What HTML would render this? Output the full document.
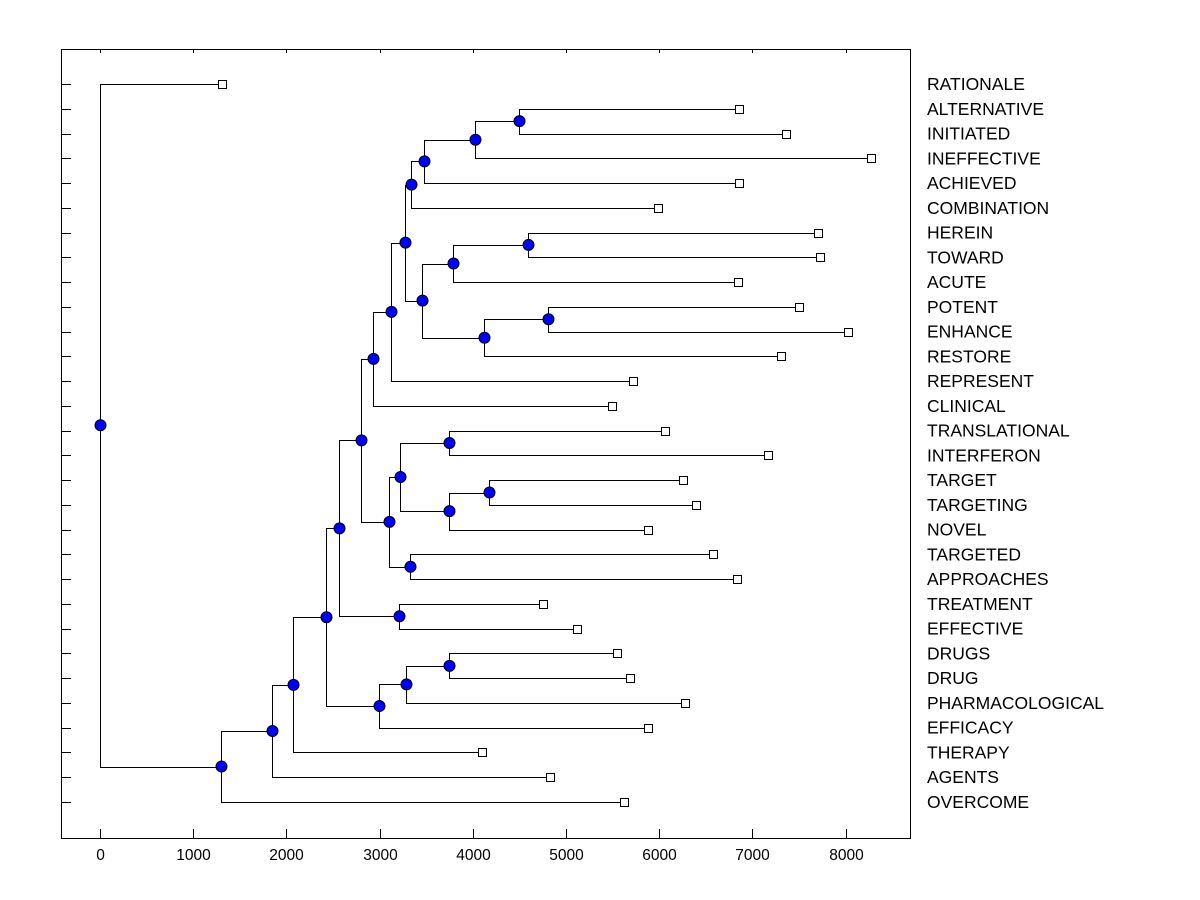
<!DOCTYPE html>
<html><head><meta charset="utf-8"><style>
body{margin:0;background:#fff;}
svg{display:block;font-family:"Liberation Sans",Arial,sans-serif;}
</style></head><body>
<svg id="chart" width="1200" height="900"></svg>
<script>
const leafLabels=["RATIONALE","ALTERNATIVE","INITIATED","INEFFECTIVE","ACHIEVED","COMBINATION","HEREIN","TOWARD","ACUTE","POTENT","ENHANCE","RESTORE","REPRESENT","CLINICAL","TRANSLATIONAL","INTERFERON","TARGET","TARGETING","NOVEL","TARGETED","APPROACHES","TREATMENT","EFFECTIVE","DRUGS","DRUG","PHARMACOLOGICAL","EFFICACY","THERAPY","AGENTS","OVERCOME"];
const leafValues=[1308,6861,7365,8276,6861,5982,7708,7729,6850,7504,8029,7311,5724,5489,6057,7172,6250,6400,5875,6582,6839,4749,5113,5542,5692,6282,5885,4095,4824,5617];
const mergeLeft =["L1","N0","N1","N2","L6","N4","L9","N6","N5","N3","N9","N10","L14","L16","N13","N12","L19","N15","N11","L21","N18","L23","N21","N22","N20","N24","N25","N26","L0"];
const mergeRight=["L2","L3","L4","L5","L7","L8","L10","L11","N7","N8","L12","L13","L15","L17","L18","N14","L20","N16","N17","L22","N19","L24","L25","L26","N23","L27","L28","L29","N27"];
const mergeHeight=[4492,4020,3473,3334,4588,3784,4803,4116,3452,3270,3120,2927,3741,4170,3741,3216,3323,3098,2798,3205,2562,3741,3280,2991,2423,2069,1844,1297,0];
const xTicks=[0,1000,2000,3000,4000,5000,6000,7000,8000];

const NS="http://www.w3.org/2000/svg";
const svg=document.getElementById('chart');
const L=61,R=910,T=49,B=838;
const xs=v=>100+v*0.0932;
const ys=i=>84+i*(802-84)/29;
function mk(tag,attrs,parent){const e=document.createElementNS(NS,tag);for(const k in attrs)e.setAttribute(k,attrs[k]);(parent||svg).appendChild(e);return e;}

const frame=mk('rect',{x:L+0.5,y:T+0.5,width:R-L,height:B-T,fill:'none',stroke:'#000','stroke-width':1});



xTicks.forEach(v=>{
  const x=Math.round(xs(v))+0.5;
  mk('line',{x1:x,x2:x,y1:B,y2:B-9,stroke:'#000'});
  mk('line',{x1:x,x2:x,y1:T,y2:T+4,stroke:'#000'});
  const t=mk('text',{x:x,y:860,'text-anchor':'middle','font-size':15.5,fill:'#000'});
  t.textContent=v;
  
  
});

const pos={};
leafLabels.forEach((lab,i)=>{
  const y=ys(i);
  pos['L'+i]={x:xs(leafValues[i]),y:y};
  mk('line',{x1:L,x2:L+10,y1:Math.round(y)+0.5,y2:Math.round(y)+0.5,stroke:'#000'});
  const t=mk('text',{x:927,y:y+6,'font-size':17.5,fill:'#000'});
  t.textContent=lab;
  
  
});

const gl=mk('g',{stroke:'#000','stroke-width':1,fill:'none'});


const dots=[];
mergeHeight.forEach((h,k)=>{
  const a=pos[mergeLeft[k]],b=pos[mergeRight[k]];
  const x=Math.round(xs(h))+0.5,y=(a.y+b.y)/2;
  pos['N'+k]={x:x,y:y};
  const ya=Math.round(a.y)+0.5,yb=Math.round(b.y)+0.5;
  mk('polyline',{points:`${a.x},${ya} ${x},${ya} ${x},${yb} ${b.x},${yb}`},gl);
  dots.push([x,y]);
});
leafLabels.forEach((lab,i)=>{
  const p=pos['L'+i];
  const s=mk('rect',{x:Math.round(p.x)-3.5,y:Math.round(p.y)-3.5,width:8,height:8,fill:'#fff',stroke:'#000'});
  
  
});
dots.forEach(d=>{
  const c=mk('circle',{cx:d[0],cy:d[1],r:5.5,fill:'#0000ff',stroke:'#000','stroke-width':1});
  
  
});
</script>
</body></html>
